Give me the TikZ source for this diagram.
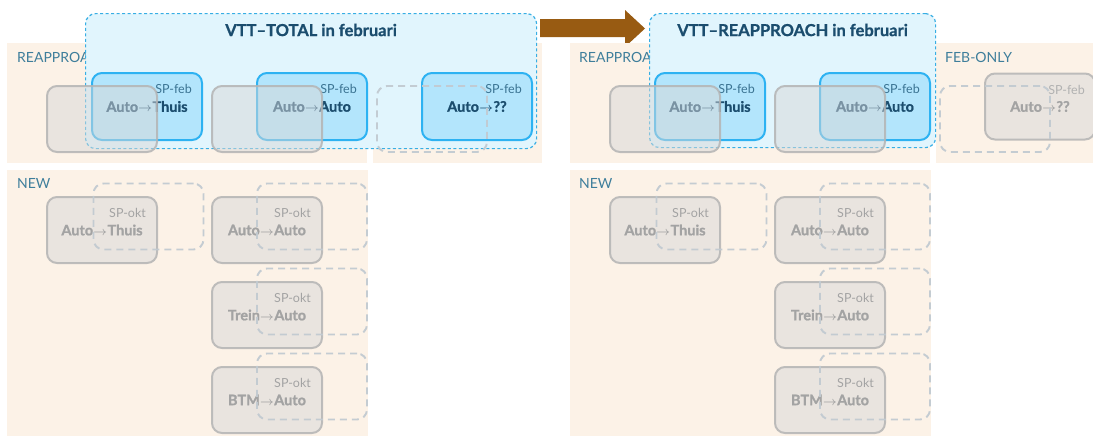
\documentclass[tikz,border=0pt]{standalone}
\usepackage{fontspec}
\setmainfont{Lato}[BoldFeatures={FakeBold=1}]
\usetikzlibrary{calc}

\definecolor{beige}{HTML}{FCF2E7}
\definecolor{vttfill}{HTML}{E1F5FD}
\definecolor{vttline}{HTML}{37AEE4}
\definecolor{spfill}{HTML}{B3E5FC}
\definecolor{spline}{HTML}{2DB2F2}
\definecolor{navy}{HTML}{1B4D6E}
\definecolor{tealtxt}{HTML}{3E7E9B}
\definecolor{subblue}{HTML}{3A7392}
\definecolor{ghostfill}{HTML}{D8D8D8}
\definecolor{ghostline}{HTML}{B4B4B4}
\definecolor{ghosttext}{HTML}{A3A3A3}
\definecolor{dashline}{HTML}{C2CAD1}
\definecolor{arrowbrown}{HTML}{985B12}

% arrow between the two modes of a trip
\newcommand{\modearr}{\kern0.3pt{\fontsize{12}{12}\selectfont\boldmath$\rightarrow$}\kern0.3pt}

\tikzset{
  region/.style={fill=beige, draw=none},
  grouplabel/.style={text=tealtxt, font=\fontsize{14}{14}\selectfont, anchor=west, inner sep=0pt},
  vttbox/.style={draw=vttline, fill=vttfill, line width=1.2pt, dash pattern=on 3pt off 2.5pt,
    rounded corners=10pt, anchor=north west, inner sep=0pt},
  vtttitle/.style={text=navy, font=\bfseries\fontsize{16.5}{16.5}\selectfont, inner sep=0pt},
  spbox/.style={draw=spline, fill=spfill, line width=2pt, rounded corners=10pt,
    minimum width=110pt, minimum height=67pt, inner sep=0pt},
  oldbox/.style={draw=ghostline, draw opacity=0.85, fill=ghostfill, fill opacity=0.5, line width=2pt,
    rounded corners=10pt, minimum width=110pt, minimum height=66pt, inner sep=0pt},
  nextbox/.style={draw=dashline, draw opacity=0.95, line width=1.9pt, dash pattern=on 7pt off 5pt,
    rounded corners=10pt, minimum width=110pt, minimum height=66pt, inner sep=0pt},
  flow/.style={font=\bfseries\fontsize{14.5}{14.5}\selectfont, inner sep=0pt},
  sptag/.style={font=\fontsize{12.5}{12.5}\selectfont, anchor=east, inner sep=0pt},
}

\begin{document}
\begin{tikzpicture}[x=1pt, y=-1pt]
\useasboundingbox (0,0) rectangle (1093,437);
\fill[white] (0,0) rectangle (1093,437);

% ---------------- left panel: VTT-TOTAL ----------------
\fill[region] (7,43) rectangle (367,163);
\fill[region] (373,43) rectangle (542,163);
\fill[region] (7,170) rectangle (368,436);
\node[grouplabel] (lreap) at (17,57) {REAPPROACH};
\node[grouplabel] (lnew) at (17,183) {NEW};

\node[vttbox, minimum width=451pt, minimum height=135pt] (ltot) at (85,13) {};
\node[vtttitle] (ltitle) at ($(ltot.north)+(0,17)$) {VTT–TOTAL in februari};

\node[spbox] (lsp1) at (147,106.5) {};
\node[flow, text=navy] (lsp1t) at (lsp1) {Auto\modearr Thuis};
\node[sptag, text=subblue] (lsp1s) at ($(lsp1.north east)+(-11,17)$) {SP-feb};
\node[spbox] (lsp2) at (312,106.5) {};
\node[flow, text=navy] (lsp2t) at (lsp2) {Auto\modearr Auto};
\node[sptag, text=subblue] (lsp2s) at ($(lsp2.north east)+(-11,17)$) {SP-feb};
\node[spbox] (lsp3) at (477,106.5) {};
\node[flow, text=navy] (lsp3t) at (lsp3) {Auto\modearr ??};
\node[sptag, text=subblue] (lsp3s) at ($(lsp3.north east)+(-11,17)$) {SP-feb};

\node[oldbox] (lold1) at (102,119) {};
\node[oldbox] (lold2) at (267,119) {};
\node[nextbox] (lnext3) at (432,119) {};

% new respondents
\node[oldbox] (ln1) at (102,230) {};
\node[flow, text=ghosttext] (ln1t) at (ln1) {Auto\modearr Thuis};
\node[sptag, text=ghosttext] (ln1s) at ($(ln1.north east)+(-12,17)$) {SP-okt};
\node[nextbox] (ln1d) at (148.5,216.5) {};

\node[oldbox] (ln2) at (267,230) {};
\node[flow, text=ghosttext] (ln2t) at (ln2) {Auto\modearr Auto};
\node[sptag, text=ghosttext] (ln2s) at ($(ln2.north east)+(-12,17)$) {SP-okt};
\node[nextbox] (ln2d) at (312,216.5) {};

\node[oldbox] (ln3) at (267,315) {};
\node[flow, text=ghosttext] (ln3t) at (ln3) {Trein\modearr Auto};
\node[sptag, text=ghosttext] (ln3s) at ($(ln3.north east)+(-12,17)$) {SP-okt};
\node[nextbox] (ln3d) at (312,301.5) {};

\node[oldbox] (ln4) at (267,400) {};
\node[flow, text=ghosttext] (ln4t) at (ln4) {BTM\modearr Auto};
\node[sptag, text=ghosttext] (ln4s) at ($(ln4.north east)+(-12,17)$) {SP-okt};
\node[nextbox] (ln4d) at (312,386.5) {};

% ---------------- arrow between panels ----------------
\fill[arrowbrown] (540,19) -- (625,19) -- (625,10) -- (645,28.5) -- (625,47) -- (625,37) -- (540,37) -- cycle;

% ---------------- right panel: VTT-REAPPROACH ----------------
\fill[region] (570,43) rectangle (930,163);
\fill[region] (936,43) rectangle (1093,163);
\fill[region] (570,170) rectangle (931,436);
\node[grouplabel] (rreap) at (579,57) {REAPPROACH};
\node[grouplabel] (rfeb) at (945,57) {FEB-ONLY};
\node[grouplabel] (rnew) at (579,183) {NEW};

\node[vttbox, minimum width=286pt, minimum height=134pt] (rtot) at (649,13) {};
\node[vtttitle] (rtitle) at ($(rtot.north)+(0,17)$) {VTT–REAPPROACH in februari};

\node[spbox] (rsp1) at (710,106.5) {};
\node[flow, text=navy] (rsp1t) at (rsp1) {Auto\modearr Thuis};
\node[sptag, text=subblue] (rsp1s) at ($(rsp1.north east)+(-11,17)$) {SP-feb};
\node[spbox] (rsp2) at (875,106.5) {};
\node[flow, text=navy] (rsp2t) at (rsp2) {Auto\modearr Auto};
\node[sptag, text=subblue] (rsp2s) at ($(rsp2.north east)+(-11,17)$) {SP-feb};

\node[oldbox] (rold1) at (665,119) {};
\node[oldbox] (rold2) at (830,119) {};

\node[oldbox] (rsp3) at (1040,106.5) {};
\node[flow, text=ghosttext] (rsp3t) at (rsp3) {Auto\modearr ??};
\node[sptag, text=ghosttext!85] (rsp3s) at ($(rsp3.north east)+(-11,17)$) {SP-feb};
\node[nextbox] (rnext3) at (995,119) {};

\node[oldbox] (rn1) at (665,230) {};
\node[flow, text=ghosttext] (rn1t) at (rn1) {Auto\modearr Thuis};
\node[sptag, text=ghosttext] (rn1s) at ($(rn1.north east)+(-12,17)$) {SP-okt};
\node[nextbox] (rn1d) at (711.5,216.5) {};

\node[oldbox] (rn2) at (830,230) {};
\node[flow, text=ghosttext] (rn2t) at (rn2) {Auto\modearr Auto};
\node[sptag, text=ghosttext] (rn2s) at ($(rn2.north east)+(-12,17)$) {SP-okt};
\node[nextbox] (rn2d) at (875,216.5) {};

\node[oldbox] (rn3) at (830,315) {};
\node[flow, text=ghosttext] (rn3t) at (rn3) {Trein\modearr Auto};
\node[sptag, text=ghosttext] (rn3s) at ($(rn3.north east)+(-12,17)$) {SP-okt};
\node[nextbox] (rn3d) at (875,301.5) {};

\node[oldbox] (rn4) at (830,400) {};
\node[flow, text=ghosttext] (rn4t) at (rn4) {BTM\modearr Auto};
\node[sptag, text=ghosttext] (rn4s) at ($(rn4.north east)+(-12,17)$) {SP-okt};
\node[nextbox] (rn4d) at (875,386.5) {};
\end{tikzpicture}
\end{document}
